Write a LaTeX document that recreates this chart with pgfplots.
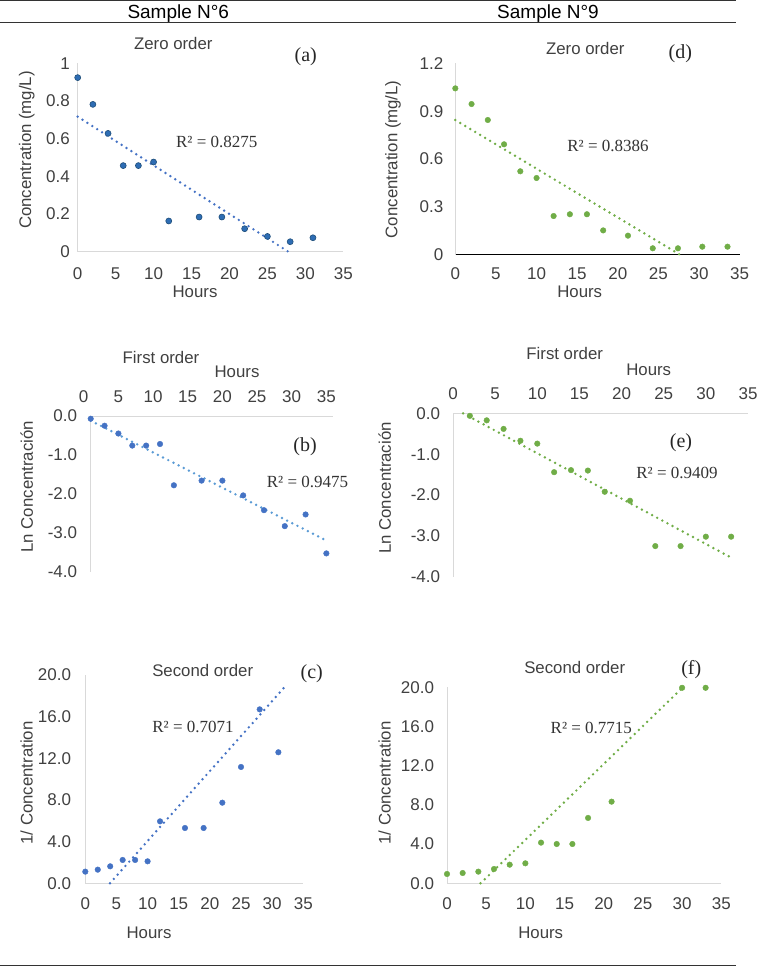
\documentclass[border=0pt]{standalone}
\usepackage{pgfplots}
\pgfplotsset{compat=1.18}
\usepackage{fontspec}
\setmainfont{Liberation Sans}
\newfontfamily\tnr{Liberation Serif}

\definecolor{axgray}{HTML}{D9D9D9}
\definecolor{txt}{HTML}{404040}
\definecolor{bluefill}{HTML}{2E6DB4}
\definecolor{blueedge}{HTML}{1F4E79}
\definecolor{bluemk}{HTML}{4472C4}
\definecolor{bluelt}{HTML}{5B9BD5}
\definecolor{grn}{HTML}{70AD47}

\newcommand{\fs}[1]{\fontsize{#1}{#1}\selectfont}
% text placed in picture pixels (x from left, y from top)
\newcommand{\lab}[4][]{\node[inner sep=0pt, text=txt, font=\fs{16.8}, #1] at (#2,967-#3) {#4};}

\pgfplotsset{
  noarrows/.style={
    every outer x axis line/.append style={-},
    every outer y axis line/.append style={-},
    every inner x axis line/.append style={-},
    every inner y axis line/.append style={-},
    axis line style={-, draw=axgray, line width=1pt}},
  panel/.style={scale only axis, anchor=south west, clip=false,
    xmin=0, xmax=35, xtick={0,5,...,35}, enlargelimits=false,
    major tick length=0pt,
    axis x line=bottom, axis y line=left, noarrows,
    tick label style={font=\fs{17}, text=txt},
    /pgf/number format/assume math mode=true},
  topx/.style={axis x line=top, noarrows},
  onedec/.style={y tick label style={/pgf/number format/.cd, fixed, fixed zerofill, precision=1, /tikz/.cd}},
  pts/.style={only marks, mark=*, mark size=2.8pt, mark options={draw=#1, fill=#1}},
  trend/.style={no marks, draw=#1, line width=2.7pt, line cap=round, dash pattern=on 0pt off 5.8pt},
}

\begin{document}
\begin{tikzpicture}[x=1pt,y=1pt]
\useasboundingbox (0,0) rectangle (758,967);

% rules and headers
\draw[line width=1pt, black!80] (0,966) -- (736,966);
\draw[line width=1pt, black!80] (0,944.5) -- (736,944.5);
\draw[line width=1pt, black!80] (0,1) -- (736,1);
\lab[text=black, font=\fs{19}]{178.3}{13.3}{Sample N°6}
\lab[text=black, font=\fs{19}]{548}{13.3}{Sample N°9}

% (a) zero order, sample 6
\begin{axis}[panel, at={(77.7pt,715.3pt)}, width=265.6pt, height=188.4pt,
    ymin=0, ymax=1, ytick={0,0.2,...,1},
    xticklabel style={anchor=center, yshift=-21.6pt},
    yticklabel style={anchor=east, xshift=-4.4pt}]
\addplot[only marks, mark=*, mark size=3pt, mark options={draw=blueedge, fill=bluefill, line width=0.6pt}] coordinates {
(0,0.924) (2,0.782) (4,0.628) (6,0.457) (8,0.457) (10,0.476) (12,0.163)
(16,0.184) (19,0.184) (22,0.122) (25,0.081) (28,0.053) (31,0.074)};
\addplot[trend=bluemk] coordinates {(0,0.717) (27.75,0)};
\end{axis}

% (d) zero order, sample 9
\begin{axis}[panel, at={(455.3pt,712pt)}, width=284.4pt, height=191.7pt,
    ymin=0, ymax=1.2, ytick={0,0.3,...,1.2},
    x axis line style={draw=black},
    xticklabel style={anchor=center, yshift=-19pt},
    yticklabel style={anchor=east, xshift=-8.4pt}]
\addplot[pts=grn] coordinates {
(0,1.043) (2,0.945) (4,0.845) (6,0.693) (8,0.524) (10,0.482) (12.1,0.244)
(14.1,0.255) (16.2,0.255) (18.2,0.154) (21.25,0.121) (24.3,0.042) (27.4,0.042)
(30.4,0.052) (33.5,0.052)};
\addplot[trend=grn] coordinates {(0,0.845) (27.7,0)};
\end{axis}

% (b) first order, sample 6
\begin{axis}[panel, topx, onedec, at={(90.7pt,395.3pt)}, width=242.6pt, height=155.7pt,
    ymin=-4, ymax=0, ytick={-4,-3,...,0},
    xticklabel style={anchor=center, yshift=19pt, xshift=-7pt},
    yticklabel style={anchor=east, xshift=-10.1pt}]
\addplot[pts=bluemk] coordinates {
(0,-0.07) (2,-0.25) (4,-0.45) (6,-0.76) (8,-0.76) (10,-0.72) (12,-1.78)
(16,-1.66) (19,-1.66) (22,-2.04) (25,-2.42) (28,-2.83) (31,-2.53) (34,-3.53)};
\addplot[trend=bluelt] coordinates {(0,-0.12) (34,-3.2)};
\end{axis}

% (e) first order, sample 9
\begin{axis}[panel, topx, onedec, at={(453pt,390.3pt)}, width=295pt, height=163.3pt,
    ymin=-4, ymax=0, ytick={-4,-3,...,0},
    xticklabel style={anchor=center, yshift=19.3pt},
    yticklabel style={anchor=east, xshift=-9.4pt}]
\addplot[pts=grn] coordinates {
(2,-0.06) (4,-0.17) (6,-0.38) (8,-0.67) (10,-0.74) (12,-1.44) (14,-1.39)
(16,-1.40) (18,-1.92) (21,-2.14) (24,-3.25) (27,-3.25) (30,-3.02) (33,-3.02)};
\addplot[trend=grn] coordinates {(1.2,0) (32.8,-3.51)};
\end{axis}

% (c) second order, sample 6
\begin{axis}[panel, onedec, at={(85.3pt,83.7pt)}, width=218pt, height=208.3pt,
    ymin=0, ymax=20, ytick={0,4,...,20},
    xticklabel style={anchor=center, yshift=-20pt},
    yticklabel style={anchor=east, xshift=-10.7pt}]
\addplot[pts=bluemk] coordinates {
(0,1.12) (2,1.31) (4,1.63) (6,2.24) (8,2.24) (10,2.11) (12,5.95)
(16,5.31) (19,5.31) (22,7.74) (25,11.17) (28,16.7) (31,12.58)};
\addplot[trend=bluemk] coordinates {(3.96,0) (32.3,19.04)};
\end{axis}

% (f) second order, sample 9
\begin{axis}[panel, onedec, at={(447pt,83.7pt)}, width=274.3pt, height=196pt,
    ymin=0, ymax=20, ytick={0,4,...,20},
    xticklabel style={anchor=center, yshift=-20pt},
    yticklabel style={anchor=east, xshift=-9.4pt}]
\addplot[pts=grn] coordinates {
(0,0.95) (2,1.05) (4,1.19) (6,1.46) (8,1.9) (10,2.04) (12,4.15)
(14,4.01) (16,4.01) (18,6.67) (21,8.33) (30,19.95) (33,19.95)};
\addplot[trend=grn] coordinates {(4.28,0) (30.1,20)};
\end{axis}

% titles, axis labels, panel letters, R^2
\lab{173.3}{43.3}{Zero order}
\lab{195}{291.7}{Hours}
\lab[rotate=90]{26.7}{150}{Concentration (mg/L)}
\lab[text=black!85, font=\fs{20}\tnr]{305.7}{56.7}{(a)}
\lab[text=black!80, font=\fs{17}\tnr]{216.7}{141.7}{R² = 0.8275}

\lab{585.3}{49}{Zero order}
\lab{579.7}{291.7}{Hours}
\lab[rotate=90]{393}{159.3}{Concentration (mg/L)}
\lab[text=black!85, font=\fs{20}\tnr]{680.3}{54}{(d)}
\lab[text=black!80, font=\fs{17}\tnr]{608}{145.7}{R² = 0.8386}

\lab{161}{358}{First order}
\lab{237}{372}{Hours}
\lab[rotate=90]{26.7}{486.7}{Ln Concentración}
\lab[text=black!85, font=\fs{20}\tnr]{305}{447}{(b)}
\lab[text=black!80, font=\fs{17}\tnr]{307.5}{482}{R² = 0.9475}

\lab{564.7}{354}{First order}
\lab{648.7}{370}{Hours}
\lab[rotate=90]{384.7}{488}{Ln Concentración}
\lab[text=black!85, font=\fs{20}\tnr]{681}{442.7}{(e)}
\lab[text=black!80, font=\fs{17}\tnr]{677}{472.7}{R² = 0.9409}

\lab{202.7}{670}{Second order}
\lab{149}{933}{Hours}
\lab[rotate=90]{26.7}{783}{1/ Concentration}
\lab[text=black!85, font=\fs{20}\tnr]{311.7}{674}{(c)}
\lab[text=black!80, font=\fs{17}\tnr]{193}{727.3}{R² = 0.7071}

\lab{574.7}{667.3}{Second order}
\lab{540.7}{933.3}{Hours}
\lab[rotate=90]{384.7}{783}{1/ Concentration}
\lab[text=black!85, font=\fs{20}\tnr]{691.3}{669.3}{(f)}
\lab[text=black!80, font=\fs{17}\tnr]{591.3}{728.3}{R² = 0.7715}
\end{tikzpicture}
\end{document}
